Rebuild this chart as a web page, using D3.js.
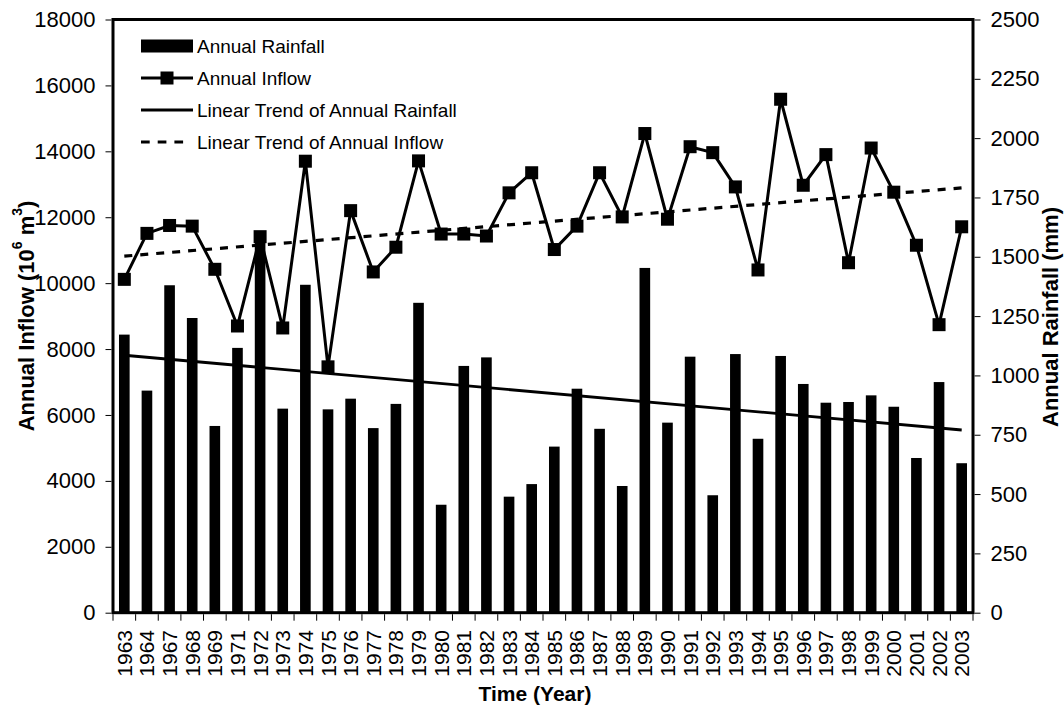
<!DOCTYPE html>
<html><head><meta charset="utf-8">
<script src="https://cdn.jsdelivr.net/npm/d3@7"></script>
<style>body{margin:0;background:#fff} text{font-family:Arial,"Liberation Sans",sans-serif;fill:#000}</style>
</head><body><svg id="c" width="1064" height="710" style="background:#fff"></svg>
<script>
const years = ["1963","1964","1967","1968","1969","1971","1972","1973","1974","1975","1976","1977","1978","1979","1980","1981","1982","1983","1984","1985","1986","1987","1988","1989","1990","1991","1992","1993","1994","1995","1996","1997","1998","1999","2000","2001","2002","2003"];
const rainfall = [1172,936,1380,1242,787,1116,1590,860,1382,857,902,778,880,1306,455,1040,1076,489,542,700,944,775,534,1453,801,1079,495,1090,733,1082,964,885,888,916,868,652,972,630];
const inflow = [10115,11510,11750,11730,10420,8700,11410,8640,13700,7460,12200,10340,11090,13710,11490,11490,11430,12740,13350,11020,11730,13350,12010,14540,11940,14140,13960,12920,10400,15580,12970,13900,10620,14100,12760,11150,8740,11710];
const rainTrend = [1085, 770];      // first and last year
const inflowTrend = [10820, 12890]; // first and last year
const inflowTicks = [0,2000,4000,6000,8000,10000,12000,14000,16000,18000];
const rainTicks = [0,250,500,750,1000,1250,1500,1750,2000,2250,2500];
const legendLabels = ["Annual Rainfall","Annual Inflow","Linear Trend of Annual Rainfall","Linear Trend of Annual Inflow"];

const M = {l:113, r:973, t:19.5, b:612.7};
const svg = d3.select('#c');
const x = d3.scaleBand().domain(years).range([M.l, M.r]).padding(0);
const yL = d3.scaleLinear().domain([0,18000]).range([M.b, M.t]);
const yR = d3.scaleLinear().domain([0,2500]).range([M.b, M.t]);
const cx = d => x(d) + x.bandwidth()/2;
const bw = x.bandwidth()*0.47;

// bars
svg.append('g').selectAll('rect').data(years).join('rect')
  .attr('x', d => cx(d) - bw/2)
  .attr('y', (d,i) => yR(rainfall[i]))
  .attr('width', bw)
  .attr('height', (d,i) => M.b - yR(rainfall[i]))
  .attr('fill', '#000');

// trend lines
const first = years[0], last = years[years.length-1];
svg.append('line')
  .attr('x1', cx(first)).attr('y1', yR(rainTrend[0]))
  .attr('x2', cx(last)).attr('y2', yR(rainTrend[1]))
  .attr('stroke', '#000').attr('stroke-width', 2.8);
svg.append('line')
  .attr('x1', cx(first)).attr('y1', yL(inflowTrend[0]))
  .attr('x2', cx(last)).attr('y2', yL(inflowTrend[1]))
  .attr('stroke', '#000').attr('stroke-width', 3.2).attr('stroke-dasharray', '8,8');

// inflow line + markers
const line = d3.line().x((d,i) => cx(years[i])).y(d => yL(d));
svg.append('path').datum(inflow).attr('d', line)
  .attr('fill', 'none').attr('stroke', '#000').attr('stroke-width', 3).attr('stroke-linejoin','miter');
const ms = 13;
svg.append('g').selectAll('rect').data(inflow).join('rect')
  .attr('x', (d,i) => cx(years[i]) - ms/2)
  .attr('y', d => yL(d) - ms/2)
  .attr('width', ms).attr('height', ms).attr('fill', '#000');

// frame
svg.append('rect').attr('x', M.l).attr('y', M.t).attr('width', M.r - M.l).attr('height', M.b - M.t)
  .attr('fill', 'none').attr('stroke', '#000').attr('stroke-width', 3);

// left axis
const gL = svg.append('g').attr('transform', `translate(${M.l - 1.5},0)`)
  .call(d3.axisLeft(yL).tickValues(inflowTicks).tickSize(6).tickPadding(10).tickFormat(d3.format('d')));
gL.select('.domain').remove();
gL.selectAll('text').attr('font-size', 22).attr('font-family', 'Arial, "Liberation Sans", sans-serif');

// right axis
const gR = svg.append('g').attr('transform', `translate(${M.r + 1.5},0)`)
  .call(d3.axisRight(yR).tickValues(rainTicks).tickSize(6).tickPadding(10).tickFormat(d3.format('d')));
gR.select('.domain').remove();
gR.selectAll('text').attr('font-size', 22).attr('font-family', 'Arial, "Liberation Sans", sans-serif');

// bottom ticks at band boundaries
const bounds = years.map(d => x(d)).concat([M.r]);
svg.append('g').selectAll('line').data(bounds).join('line')
  .attr('x1', d => d).attr('x2', d => d).attr('y1', M.b + 1.5).attr('y2', M.b + 8)
  .attr('stroke', '#000').attr('stroke-width', 1);
svg.append('g').selectAll('text').data(years).join('text')
  .attr('transform', d => `translate(${cx(d)},630) rotate(-90)`)
  .attr('text-anchor', 'end').attr('dominant-baseline', 'central')
  .attr('font-size', 21).text(d => d);

// axis titles
svg.append('text').attr('x', 535).attr('y', 701).attr('text-anchor', 'middle')
  .attr('font-size', 21).attr('font-weight', 'bold').text('Time (Year)');
const lt = svg.append('text').attr('transform', 'translate(26,316) rotate(-90)')
  .attr('text-anchor', 'middle').attr('dominant-baseline', 'central')
  .attr('font-size', 22).attr('font-weight', 'bold');
lt.append('tspan').text('Annual Inflow (10');
lt.append('tspan').attr('font-size', 14).attr('dy', -9).text('6');
lt.append('tspan').attr('dy', 9).text(' m');
lt.append('tspan').attr('font-size', 14).attr('dy', -9).text('3');
lt.append('tspan').attr('dy', 9).text(')');
svg.append('text').attr('transform', 'translate(1050,317) rotate(-90)')
  .attr('text-anchor', 'middle').attr('dominant-baseline', 'central')
  .attr('font-size', 22).attr('font-weight', 'bold').text('Annual Rainfall (mm)');

// legend
const rows = [46, 78, 110, 142];
const lx0 = 141, lx1 = 193;
const lg = svg.append('g');
lg.append('rect').attr('x', lx0).attr('y', rows[0] - 6.5).attr('width', lx1 - lx0).attr('height', 13).attr('fill', '#000');
lg.append('line').attr('x1', lx0).attr('x2', lx1).attr('y1', rows[1]).attr('y2', rows[1]).attr('stroke', '#000').attr('stroke-width', 3);
lg.append('rect').attr('x', (lx0+lx1)/2 - ms/2).attr('y', rows[1] - ms/2).attr('width', ms).attr('height', ms).attr('fill', '#000');
lg.append('line').attr('x1', lx0).attr('x2', lx1).attr('y1', rows[2]).attr('y2', rows[2]).attr('stroke', '#000').attr('stroke-width', 2.8);
lg.append('line').attr('x1', lx0).attr('x2', 184).attr('y1', rows[3]).attr('y2', rows[3]).attr('stroke', '#000').attr('stroke-width', 3.2).attr('stroke-dasharray', '8.7,8');
lg.selectAll('text.lt').data(legendLabels).join('text').attr('class','lt')
  .attr('x', 197).attr('y', (d,i) => rows[i] + 6.8).attr('font-size', 19).text(d => d);
</script></body></html>
